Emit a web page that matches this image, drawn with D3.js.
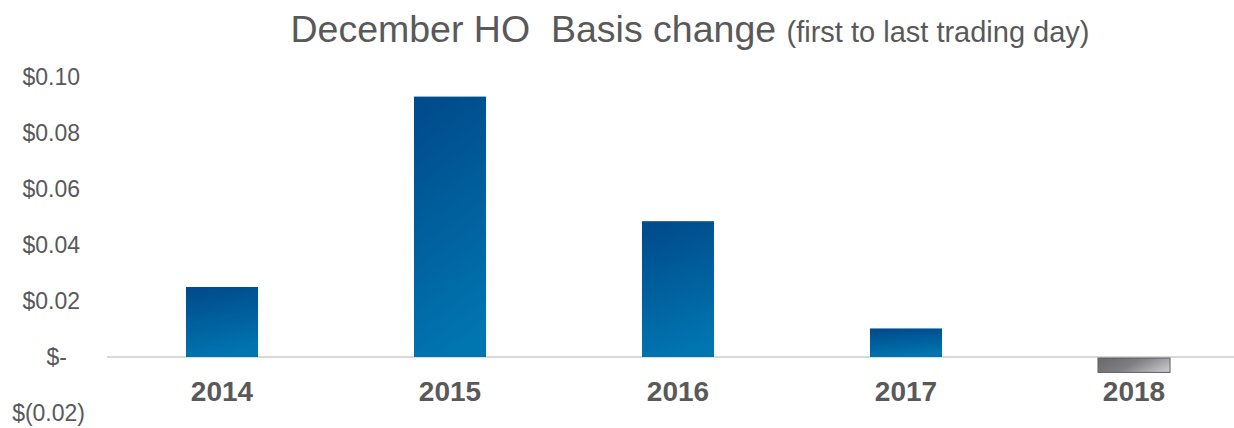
<!DOCTYPE html>
<html><head><meta charset="utf-8">
<script src="https://cdn.jsdelivr.net/npm/d3@7"></script>
<style>body{margin:0;background:#fff}svg{display:block}</style>
</head><body>
<script>
const categories = ["2014","2015","2016","2017","2018"];
const values = [0.025, 0.093, 0.0485, 0.0102, -0.0055];
const yTicks = [-0.02, 0, 0.02, 0.04, 0.06, 0.08, 0.10];
const titleMain = "December HO\u00a0 Basis change ";
const titleSub = "(first to last trading day)";

const W = 1234, H = 428;
const svg = d3.select("body").append("svg").attr("width", W).attr("height", H);
const defs = svg.append("defs");
const gb = defs.append("linearGradient").attr("id","gBlue").attr("x1","0.3").attr("y1","0").attr("x2","0.5").attr("y2","1");
gb.append("stop").attr("offset","0").attr("stop-color","#004b8b");
gb.append("stop").attr("offset","1").attr("stop-color","#0076b1");
const gg = defs.append("linearGradient").attr("id","gGray").attr("x1","0").attr("y1","0.3").attr("x2","1").attr("y2","0.7");
gg.append("stop").attr("offset","0").attr("stop-color","#6b6b70");
gg.append("stop").attr("offset","0.45").attr("stop-color","#7e7e83");
gg.append("stop").attr("offset","1").attr("stop-color","#c4c4c6");

const x = d3.scaleBand().domain(categories).range([108, 1248]).paddingInner(0.684).paddingOuter(0.342);
const y = d3.scaleLinear().domain([-0.02, 0.10]).range([413, 77]);

const fmt = v => v === 0 ? "$-" : (v < 0 ? "$(" + d3.format(".2f")(-v) + ")" : "$" + d3.format(".2f")(v));
svg.append("g").selectAll("text").data(yTicks).join("text")
  .attr("x", d => d === 0 ? 67 : (d < 0 ? 85 : 80))
  .attr("y", d => y(d)).attr("dy", "0.35em")
  .attr("text-anchor","end")
  .attr("font-family","Liberation Sans, Arial, sans-serif").attr("font-size", 23)
  .attr("fill","#595959").text(fmt);

svg.append("line").attr("x1",107).attr("x2",1234).attr("y1",y(0)).attr("y2",y(0))
  .attr("stroke","#d9d9d9").attr("stroke-width",2);

svg.append("g").selectAll("rect").data(values).join("rect")
  .attr("x",(d,i)=>x(categories[i]))
  .attr("width", x.bandwidth())
  .attr("y", d => d >= 0 ? y(d) : y(0)+1)
  .attr("height", d => d >= 0 ? y(0)-y(d) : y(d)-y(0)-1)
  .attr("fill", d => d >= 0 ? "url(#gBlue)" : "url(#gGray)")
  .attr("stroke", d => d >= 0 ? "none" : "#5f5f63")
  .attr("stroke-width", 1);

svg.append("g").selectAll("text").data(categories).join("text")
  .attr("x", d => x(d) + x.bandwidth()/2).attr("y", 391).attr("dy","0.35em")
  .attr("text-anchor","middle")
  .attr("font-family","Liberation Sans, Arial, sans-serif").attr("font-size", 28).attr("font-weight","bold")
  .attr("fill","#595959").text(d => d);

const t = svg.append("text").attr("x", 690).attr("y", 42).attr("text-anchor","middle")
  .attr("font-family","Liberation Sans, Arial, sans-serif").attr("fill","#595959");
t.append("tspan").attr("font-size", 37.5).text(titleMain);
t.append("tspan").attr("font-size", 29).text(titleSub);
</script>
</body></html>
